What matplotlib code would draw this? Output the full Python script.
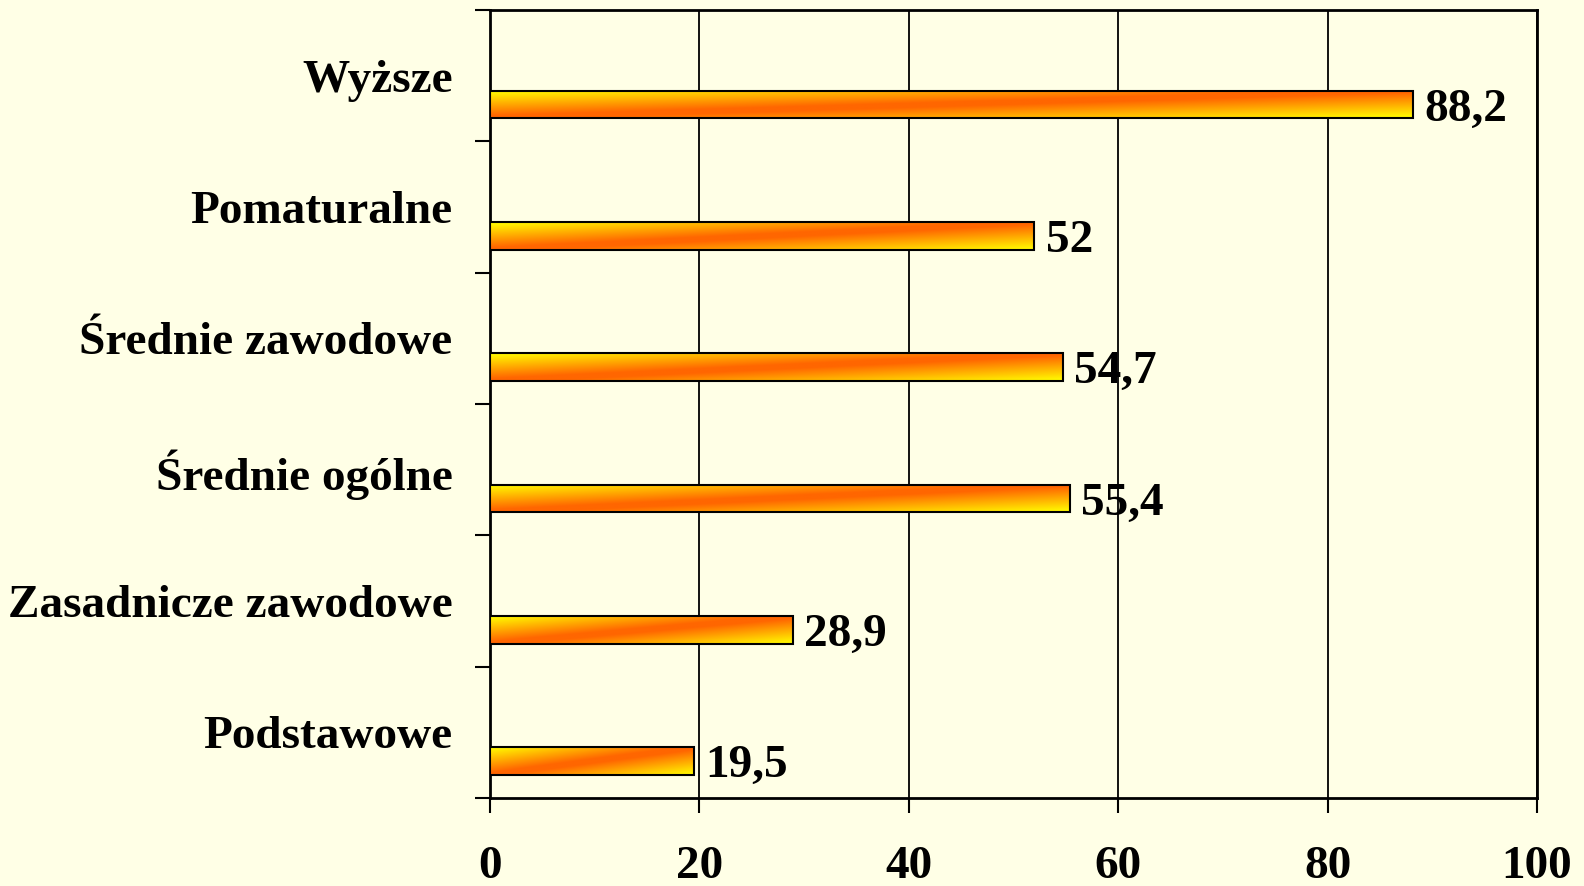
import numpy as np
import matplotlib
matplotlib.use("Agg")
import matplotlib.pyplot as plt
from matplotlib.colors import LinearSegmentedColormap

categories = ["Podstawowe", "Zasadnicze zawodowe", "Średnie ogólne",
              "Średnie zawodowe", "Pomaturalne", "Wyższe"]
values = [19.5, 28.9, 55.4, 54.7, 52, 88.2]
value_labels = ["19,5", "28,9", "55,4", "54,7", "52", "88,2"]
xticks = [0, 20, 40, 60, 80, 100]

BG = "#FFFFE6"
plt.rcParams["font.family"] = ["Liberation Serif", "DejaVu Serif"]
plt.rcParams["font.weight"] = "bold"

fig = plt.figure(figsize=(15.84, 8.86), dpi=100, facecolor=BG)
W, H = 1584, 886
ax = fig.add_axes([490 / W, 1 - 798 / H, (1537 - 490) / W, (798 - 10) / H])
ax.set_facecolor(BG)

cmap = LinearSegmentedColormap.from_list(
    "yo", [(0.0, "#FFFF00"), (0.46, "#FF6600"), (0.54, "#FF6600"), (1.0, "#FFFF00")])
nx, ny = 200, 40
u = np.linspace(0, 1, nx)[None, :]
v = np.linspace(1, 0, ny)[:, None]  # row 0 = top
grad = (u + (1 - v)) / 2

ypos = np.arange(len(categories))
offset = -0.22
height = 0.21
for i, (val, lab) in enumerate(zip(values, value_labels)):
    yc = ypos[i] + offset
    bar = ax.barh(yc, val, height=height, left=0, facecolor="none",
                  edgecolor="black", linewidth=1.5, zorder=4)[0]
    im = ax.imshow(grad, cmap=cmap, vmin=0, vmax=1, aspect="auto",
                   extent=[0, val, yc - height / 2, yc + height / 2],
                   origin="upper", zorder=3, interpolation="bilinear")
    im.set_clip_path(bar)
    ax.annotate(lab, (val, yc), xytext=(8, -3.5), textcoords="offset points",
                va="center", ha="left", fontsize=34, fontweight="bold")

ax.set_xlim(0, 100)
ax.set_ylim(-0.5, len(categories) - 0.5)
ax.set_xticks(xticks)
ax.set_xticklabels([str(t) for t in xticks], fontsize=34, fontweight="bold")
ax.set_yticks(ypos)
ax.set_yticklabels(categories, fontsize=34, fontweight="bold")
ax.set_yticks(np.arange(-0.5, len(categories), 1.0), minor=True)
ax.tick_params(axis="y", which="major", length=0, pad=27)
ax.tick_params(axis="y", which="minor", length=10.5, width=1.5, direction="out")
ax.tick_params(axis="x", which="major", length=10.5, width=1.5, direction="out", pad=24)

ax.grid(axis="x", color="black", linewidth=1.3, zorder=1)
ax.set_axisbelow(True)
for s in ax.spines.values():
    s.set_color("black")
    s.set_linewidth(2)

fig.savefig("out.png", dpi=100, facecolor=BG)
